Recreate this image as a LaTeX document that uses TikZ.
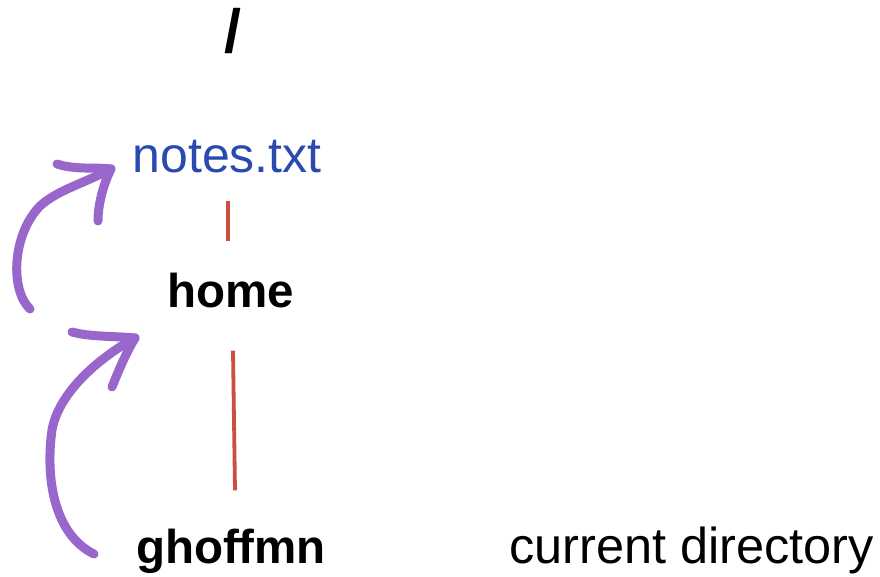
\documentclass[tikz,border=0pt]{standalone}
\usepackage{fontspec}
\setmainfont{Liberation Sans}
\usetikzlibrary{calc}
\definecolor{inkpurple}{HTML}{9966CC}
\definecolor{treered}{HTML}{C8503C}
\definecolor{fileblue}{HTML}{2A4AB0}
\tikzset{
  label text/.style={inner sep=0pt, anchor=base, font=\fontsize{50}{58}\selectfont},
  dirname/.style={label text, font=\fontsize{47.5}{56}\selectfont\bfseries},
  treeline/.style={draw=treered, line width=3.8pt},
  pen/.style={draw=inkpurple, line width=9pt, line cap=round, line join=round},
}
\begin{document}
\begin{tikzpicture}[x=1pt, y=-1pt]
  \useasboundingbox (0,0) rectangle (880,577);
  % directory tree
  \node[dirname, font=\fontsize{61}{68}\selectfont\bfseries] (root) at (233,53) {/};
  \node[label text, text=fileblue] (notes) at (227,173) {notes.txt};
  \node[dirname] (home) at (231,307) {home};
  \node[dirname] (user) at (231,563) {ghoffmn};
  \node[label text, anchor=base west, font=\fontsize{50.5}{58}\selectfont] (cwd) at (509,563) {current directory};
  % tree links
  \draw[treeline] ([xshift=1pt,yshift=-27pt]notes.south) -- ([xshift=-3pt,yshift=31pt]home.north);
  \draw[treeline] ([xshift=2pt,yshift=-43pt]home.south) -- ([xshift=4pt,yshift=38pt]user.north);
  % hand-drawn arrows: ghoffmn -> home -> notes.txt
  \coordinate (a1s) at (30,309);
  \coordinate (a1t) at (111,169);
  \coordinate (a2s) at (94,554);
  \coordinate (a2t) at (135,338);
  \draw[pen] (a1s) .. controls (10,290) and (12,235) .. (40,206)
             .. controls (58,190) and (80,185) .. (a1t);
  \draw[pen] (57,164) .. controls (75,170) and (95,167) .. (a1t)
             .. controls (103,185) and (98,205) .. (98,221);
  \draw[pen] (a2s) .. controls (55,535) and (45,480) .. (52,430)
             .. controls (58,395) and (95,360) .. (a2t);
  \draw[pen] (72,332) .. controls (90,337) and (115,336) .. (a2t)
             .. controls (125,355) and (118,372) .. (112,387);
\end{tikzpicture}
\end{document}
